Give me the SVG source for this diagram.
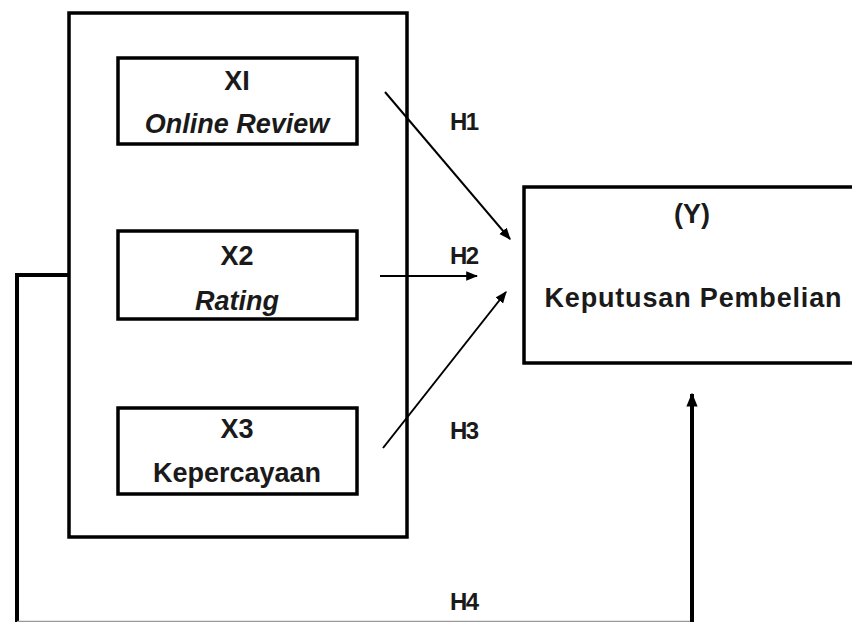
<svg xmlns="http://www.w3.org/2000/svg" width="852" height="622" viewBox="0 0 852 622">
<style>
.box{fill:none;stroke:#000;stroke-width:3.5}
.t{font-family:"Liberation Sans",Arial,sans-serif;font-weight:bold;font-size:27px;fill:#1a1a1a;text-anchor:middle}
.i{font-style:italic}
.h{font-family:"Liberation Sans",Arial,sans-serif;font-weight:bold;font-size:24px;fill:#1a1a1a;letter-spacing:-1.5px}
.ar{stroke:#000;stroke-width:2;fill:none;marker-end:url(#ah)}
</style>
<defs>
<marker id="ah" viewBox="0 0 10 10" refX="9" refY="5" markerWidth="6" markerHeight="6" orient="auto" markerUnits="strokeWidth">
<path d="M0,1 L10,5 L0,9 Z" fill="#000"/>
</marker>
<marker id="ahb" viewBox="0 0 10 10" refX="9" refY="5" markerWidth="3.5" markerHeight="3.5" orient="auto" markerUnits="strokeWidth">
<path d="M0,1 L10,5 L0,9 Z" fill="#000"/>
</marker>
</defs>
<rect width="852" height="622" fill="#fff"/>
<g id="group-x">
<rect class="box" x="69" y="13" width="338" height="524"/>
</g>
<g id="x1">
<rect class="box" x="118" y="58" width="239" height="86"/>
<text class="t" x="237" y="90">XI</text>
<text class="t i" x="237" y="133">Online Review</text>
</g>
<g id="x2">
<rect class="box" x="118" y="231" width="239" height="88"/>
<text class="t" x="237" y="265">X2</text>
<text class="t i" x="237" y="310">Rating</text>
</g>
<g id="x3">
<rect class="box" x="118" y="408" width="239" height="86"/>
<text class="t" x="237" y="438">X3</text>
<text class="t" x="237" y="482">Kepercayaan</text>
</g>
<g id="y">
<rect class="box" x="524" y="187" width="340" height="176"/>
<text class="t" x="692" y="223">(Y)</text>
<text class="t" x="693" y="307" textLength="297" lengthAdjust="spacing">Keputusan Pembelian</text>
</g>
<g id="connectors">
<line class="ar" x1="385" y1="92" x2="510" y2="239"/>
<line class="ar" x1="380" y1="276" x2="477" y2="276"/>
<line class="ar" x1="383" y1="448" x2="506" y2="292"/>
<polyline points="69,275 17,275 17,622" fill="none" stroke="#000" stroke-width="4"/>
<line x1="17" y1="621.5" x2="693" y2="621.5" stroke="#999" stroke-width="1.5"/>
<line x1="692" y1="622" x2="692" y2="394" stroke="#000" stroke-width="4" marker-end="url(#ahb)"/>
<text class="h" x="450" y="130">H1</text>
<text class="h" x="450" y="264">H2</text>
<text class="h" x="450" y="439">H3</text>
<text class="h" x="450" y="610">H4</text>
</g>
</svg>
